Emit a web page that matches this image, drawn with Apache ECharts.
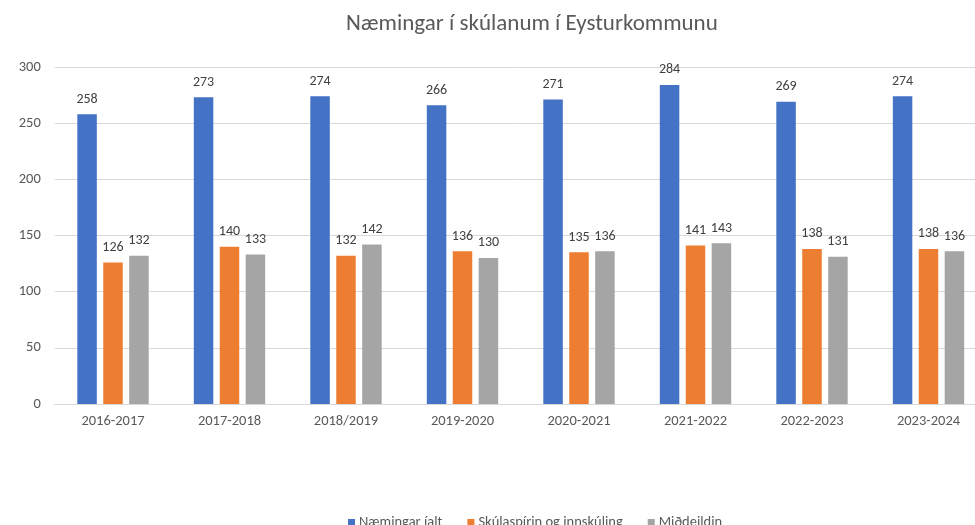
<!DOCTYPE html>
<html>
<head>
<meta charset="utf-8">
<script src="https://cdn.jsdelivr.net/npm/echarts@6/dist/echarts.min.js"></script>
<style>
  html, body { margin: 0; padding: 0; background: #fff; }
  #main { width: 975px; height: 525px; overflow: hidden; }
</style>
</head>
<body>
<div id="main"></div>
<script>
  var years = ['2016-2017', '2017-2018', '2018/2019', '2019-2020', '2020-2021', '2021-2022', '2022-2023', '2023-2024'];
  var naemingarIalt = [258, 273, 274, 266, 271, 284, 269, 274];
  var skulaspirin = [126, 140, 132, 136, 135, 141, 138, 138];
  var middeildin = [132, 133, 142, 130, 136, 143, 131, 136];
  var seriesNames = ['Næmingar íalt', 'Skúlaspírin og innskúling', 'Miðdeildin'];

  var font = 'Carlito, Lato, "Open Sans", sans-serif';

  function barSeries(name, data, color) {
    return {
      name: name,
      type: 'bar',
      data: data,
      barWidth: 19.5,
      barGap: '33%',
      itemStyle: { color: color },
      label: {
        show: true,
        position: 'top',
        distance: 8,
        color: '#404040',
        fontSize: 14,
        fontFamily: font
      }
    };
  }

  var myChart = echarts.init(document.getElementById('main'));
  myChart.setOption({
    animation: false,
    title: {
      text: 'Næmingar í skúlanum í Eysturkommunu',
      left: 341,
      top: 8,
      textStyle: { color: '#595959', fontSize: 23, fontWeight: 'normal', fontFamily: font }
    },
    legend: {
      data: seriesNames,
      left: 343,
      top: 510,
      itemWidth: 7,
      itemHeight: 7,
      itemGap: 25,
      icon: 'rect',
      textStyle: { color: '#595959', fontSize: 14.5, fontFamily: font, padding: [0, 0, 0, -1] }
    },
    grid: {
      left: 54.75,
      right: -11.75,
      top: 67,
      bottom: 121,
      containLabel: false,
      outerBoundsMode: 'none'
    },
    xAxis: {
      type: 'category',
      data: years,
      axisLine: { lineStyle: { color: '#d9d9d9' } },
      axisTick: { show: false },
      axisLabel: { color: '#595959', fontSize: 14.5, fontFamily: font, margin: 10 }
    },
    yAxis: {
      type: 'value',
      min: 0,
      max: 300,
      interval: 50,
      axisLine: { show: false },
      axisTick: { show: false },
      axisLabel: { color: '#595959', fontSize: 14.5, fontFamily: font, margin: 14 },
      splitLine: { lineStyle: { color: '#d9d9d9' } }
    },
    series: [
      barSeries(seriesNames[0], naemingarIalt, '#4472C4'),
      barSeries(seriesNames[1], skulaspirin, '#ED7D31'),
      barSeries(seriesNames[2], middeildin, '#A5A5A5')
    ]
  });
</script>
</body>
</html>
